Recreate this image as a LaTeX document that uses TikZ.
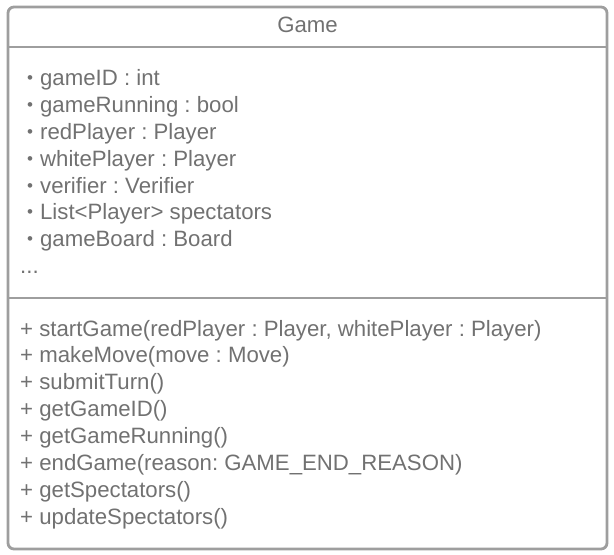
\documentclass[tikz,border=0pt]{standalone}
\usepackage{fontspec}
\setmainfont{Liberation Sans}
\usepackage{tikz}
\usetikzlibrary{positioning,calc}
\definecolor{umlline}{HTML}{9E9E9E}
\definecolor{umltext}{HTML}{717171}
\frenchspacing
\newcommand{\attrbullet}{\raisebox{1.6pt}{\fontsize{17}{17}\selectfont\textbullet}\hspace{7pt}}

\begin{document}
\begin{tikzpicture}[
    x=1pt,
    y=-1pt,
    every node/.style={text=umltext,font=\fontsize{22.2}{26}\selectfont,inner sep=0pt,anchor=base west},
    ]
    \useasboundingbox (0,0) rectangle (614,555);

    % class box
    \draw[umlline,line width=2.8pt,rounded corners=6pt] (8,7) rectangle (607,549);
    \coordinate (h1) at (8,47);
    \coordinate (h2) at (607,47);
    \coordinate (s1) at (8,298);
    \coordinate (s2) at (607,298);
    \draw[umlline,line width=2.8pt] (h1) -- (h2);
    \draw[umlline,line width=2.8pt] (s1) -- (s2);

    % name
    \node[anchor=base] (name) at (307.5,32) {Game};

    % attributes
    \node (a1) at (27,85) {\attrbullet gameID : int};
    \node (a2) at (27,112) {\attrbullet gameRunning : bool};
    \node (a3) at (27,139) {\attrbullet redPlayer : Player};
    \node (a4) at (27,166) {\attrbullet whitePlayer : Player};
    \node (a5) at (27,193) {\attrbullet verifier : Verifier};
    \node (a6) at (27,219) {\attrbullet List<Player> spectators};
    \node (a7) at (27,246) {\attrbullet gameBoard : Board};
    \node (a8) at (20,273) {...};

    % methods
    \node (m1) at (20,336) {+ startGame(redPlayer : Player, whitePlayer : Player)};
    \node (m2) at (20,362) {+ makeMove(move : Move)};
    \node (m3) at (20,389) {+ submitTurn()};
    \node (m4) at (20,416) {+ getGameID()};
    \node (m5) at (20,443) {+ getGameRunning()};
    \node (m6) at (20,470) {+ endGame(reason: GAME\_END\_REASON)};
    \node (m7) at (20,497) {+ getSpectators()};
    \node (m8) at (20,524) {+ updateSpectators()};
  \end{tikzpicture}
\end{document}
